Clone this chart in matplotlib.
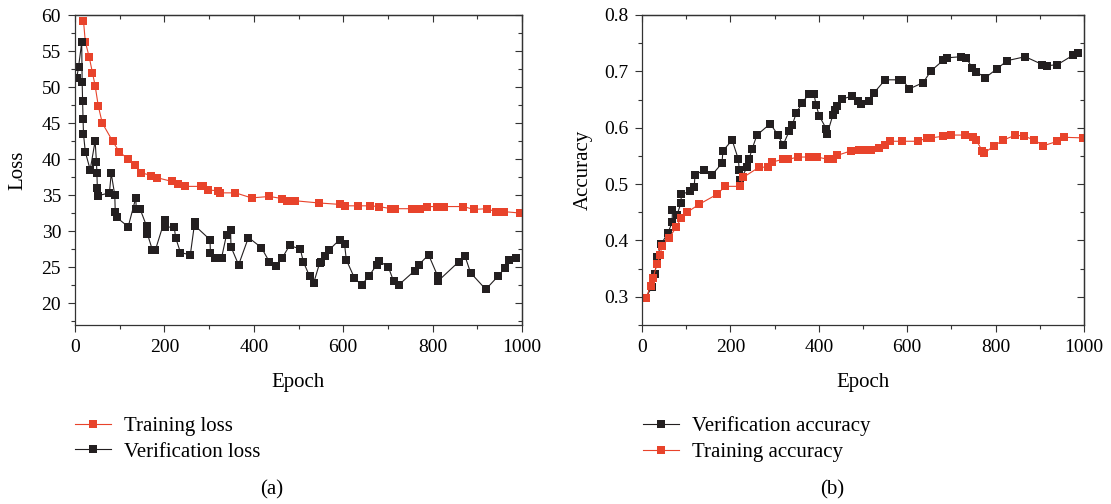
import matplotlib
matplotlib.use('Agg')
import matplotlib.pyplot as plt
from matplotlib.ticker import MultipleLocator

plt.rcParams['font.family'] = ['Liberation Serif', 'DejaVu Serif']

RED = '#E8432B'
BLACK = '#231F20'

# (a) loss curves
train_loss_epoch = [19, 23, 32, 39, 45, 52, 61, 84, 99, 119, 135, 148, 171, 184, 216, 231, 245,
                    281, 287, 297, 319, 325, 359, 395, 435, 464, 475, 493, 545, 592, 605, 634,
                    661, 679, 708, 717, 753, 771, 787, 809, 825, 869, 892, 921, 941, 959, 995]
train_loss = [59.2, 56.3, 54.1, 52.0, 50.2, 47.4, 45.0, 42.5, 41.0, 40.0, 39.2, 38.1, 37.7, 37.4,
              36.9, 36.6, 36.2, 36.2, 36.2, 35.7, 35.6, 35.3, 35.3, 34.6, 34.8, 34.5, 34.2, 34.2,
              33.9, 33.7, 33.5, 33.5, 33.5, 33.4, 33.1, 33.1, 33.1, 33.1, 33.4, 33.4, 33.4, 33.4,
              33.0, 33.1, 32.7, 32.7, 32.5]

ver_loss_epoch = [4, 8, 15, 16, 17, 18, 19, 23, 34, 45, 48, 49, 50, 51, 77, 81, 89, 90, 93, 119,
                  136, 137, 146, 160, 162, 173, 180, 201, 202, 222, 225, 236, 258, 268, 269, 302,
                  303, 314, 328, 339, 348, 349, 366, 388, 417, 435, 449, 464, 480, 504, 511, 525,
                  534, 547, 551, 560, 569, 592, 603, 607, 625, 641, 657, 675, 679, 701, 713, 724,
                  760, 769, 791, 811, 813, 858, 872, 885, 919, 946, 961, 972, 986]
ver_loss = [51.3, 52.8, 56.2, 50.7, 48.1, 45.5, 43.5, 41.0, 38.5, 42.5, 39.6, 38.0, 36.0, 34.9,
            35.3, 38.0, 35.0, 32.7, 31.9, 30.6, 34.6, 33.1, 33.0, 30.7, 29.6, 27.4, 27.4, 31.6,
            30.5, 30.6, 29.1, 27.0, 26.7, 31.3, 30.7, 28.8, 26.9, 26.3, 26.3, 29.5, 30.2, 27.8,
            25.3, 29.1, 27.7, 25.7, 25.2, 26.3, 28.0, 27.5, 25.7, 23.7, 22.8, 25.5, 25.7, 26.6,
            27.4, 28.8, 28.2, 26.0, 23.5, 22.5, 23.7, 25.3, 25.9, 25.0, 23.0, 22.5, 24.5, 25.3,
            26.7, 23.8, 23.1, 25.7, 26.6, 24.2, 21.9, 23.7, 24.8, 26.0, 26.2]

# (b) accuracy curves
ver_acc_epoch = [8, 23, 29, 34, 43, 59, 68, 69, 79, 88, 89, 109, 118, 120, 140, 158, 181, 183,
                 204, 218, 220, 222, 238, 242, 249, 260, 290, 308, 319, 333, 340, 349, 362, 378,
                 389, 394, 401, 417, 419, 432, 437, 442, 453, 475, 489, 496, 514, 525, 550, 582,
                 589, 605, 636, 654, 682, 689, 722, 734, 747, 756, 777, 804, 826, 867, 906, 917,
                 940, 976, 987]
ver_acc = [0.298, 0.318, 0.340, 0.370, 0.393, 0.414, 0.432, 0.454, 0.445, 0.466, 0.482, 0.487,
           0.495, 0.516, 0.525, 0.516, 0.537, 0.559, 0.578, 0.544, 0.525, 0.507, 0.530, 0.544,
           0.562, 0.587, 0.607, 0.587, 0.569, 0.594, 0.605, 0.626, 0.644, 0.660, 0.660, 0.640,
           0.621, 0.598, 0.589, 0.623, 0.632, 0.639, 0.651, 0.656, 0.648, 0.642, 0.648, 0.662,
           0.685, 0.685, 0.685, 0.669, 0.680, 0.701, 0.720, 0.724, 0.726, 0.724, 0.706, 0.699,
           0.689, 0.705, 0.719, 0.726, 0.712, 0.710, 0.712, 0.729, 0.733]

train_acc_epoch = [9, 20, 25, 34, 41, 45, 61, 77, 88, 102, 129, 170, 188, 222, 229, 265, 285,
                   294, 319, 331, 353, 378, 396, 421, 432, 442, 473, 491, 505, 518, 537, 550, 562,
                   589, 625, 645, 654, 682, 700, 731, 749, 756, 770, 774, 797, 817, 845, 865, 888,
                   908, 940, 955, 998]
train_acc = [0.298, 0.320, 0.334, 0.358, 0.374, 0.390, 0.404, 0.423, 0.439, 0.450, 0.464, 0.482,
             0.496, 0.496, 0.512, 0.530, 0.530, 0.539, 0.544, 0.544, 0.548, 0.548, 0.548, 0.544,
             0.544, 0.551, 0.559, 0.560, 0.560, 0.560, 0.564, 0.569, 0.576, 0.576, 0.576, 0.582,
             0.582, 0.585, 0.587, 0.587, 0.583, 0.578, 0.559, 0.555, 0.568, 0.578, 0.587, 0.585,
             0.578, 0.568, 0.576, 0.583, 0.582]

fig = plt.figure(figsize=(11.11, 5.04), dpi=100)
W, H = 1111, 504
ax1 = fig.add_axes([75 / W, 1 - 325 / H, (522 - 75) / W, 310 / H])
ax2 = fig.add_axes([642 / W, 1 - 325 / H, (1084 - 642) / W, 310 / H])

style = dict(marker='s', markersize=6, lw=0.8, markeredgewidth=0)

ax1.plot(train_loss_epoch, train_loss, color=RED, label='Training loss', **style)
ax1.plot(ver_loss_epoch, ver_loss, color=BLACK, label='Verification loss', **style)
ax1.set_xlim(0, 1000)
ax1.set_ylim(16.95, 60)
ax1.yaxis.set_major_locator(MultipleLocator(5))
ax1.yaxis.set_minor_locator(MultipleLocator(2.5))
ax1.set_ylabel('Loss', fontsize=15, labelpad=10)

ax2.plot(ver_acc_epoch, ver_acc, color=BLACK, label='Verification accuracy', **style)
ax2.plot(train_acc_epoch, train_acc, color=RED, label='Training accuracy', **style)
ax2.set_xlim(0, 1000)
ax2.set_ylim(0.25, 0.8)
ax2.yaxis.set_major_locator(MultipleLocator(0.1))
ax2.yaxis.set_minor_locator(MultipleLocator(0.05))
ax2.set_ylabel('Accuracy', fontsize=15, labelpad=8)

for ax in (ax1, ax2):
    ax.xaxis.set_major_locator(MultipleLocator(200))
    ax.xaxis.set_minor_locator(MultipleLocator(100))
    # bottom/left ticks point outward
    ax.tick_params(which='both', direction='out', labelsize=14, color='#333333', width=0.8,
                   pad=5)
    ax.tick_params(which='major', length=5)
    ax.tick_params(which='minor', length=3)
    ax.set_xlabel('Epoch', fontsize=15, labelpad=12)
    for s in ax.spines.values():
        s.set_linewidth(0.9)
        s.set_color('#333333')
    # top/right ticks point inward
    top = ax.secondary_xaxis('top')
    right = ax.secondary_yaxis('right')
    for sec in (top, right):
        sec.tick_params(which='both', direction='in', labeltop=False, labelright=False,
                        color='#333333', width=0.8)
        sec.tick_params(which='major', length=5)
        sec.tick_params(which='minor', length=3)
        for s in sec.spines.values():
            s.set_linewidth(0.9)
            s.set_color('#333333')
    top.xaxis.set_major_locator(MultipleLocator(200))
    top.xaxis.set_minor_locator(MultipleLocator(100))
    right.yaxis.set_major_locator(ax.yaxis.get_major_locator())
    right.yaxis.set_minor_locator(ax.yaxis.get_minor_locator())

leg_kw = dict(frameon=False, fontsize=15, handlelength=1.7, handletextpad=0.65,
              labelspacing=0.3, borderaxespad=0, loc='upper left')
ax1.legend(bbox_to_anchor=(67 / W, 1 - 408 / H), bbox_transform=fig.transFigure, **leg_kw)
ax2.legend(bbox_to_anchor=(635 / W, 1 - 408 / H), bbox_transform=fig.transFigure, **leg_kw)

fig.text(272 / W, 1 - 490 / H, '(a)', fontsize=15, ha='center', va='center')
fig.text(832 / W, 1 - 490 / H, '(b)', fontsize=15, ha='center', va='center')

fig.savefig('out.png', dpi=100)
